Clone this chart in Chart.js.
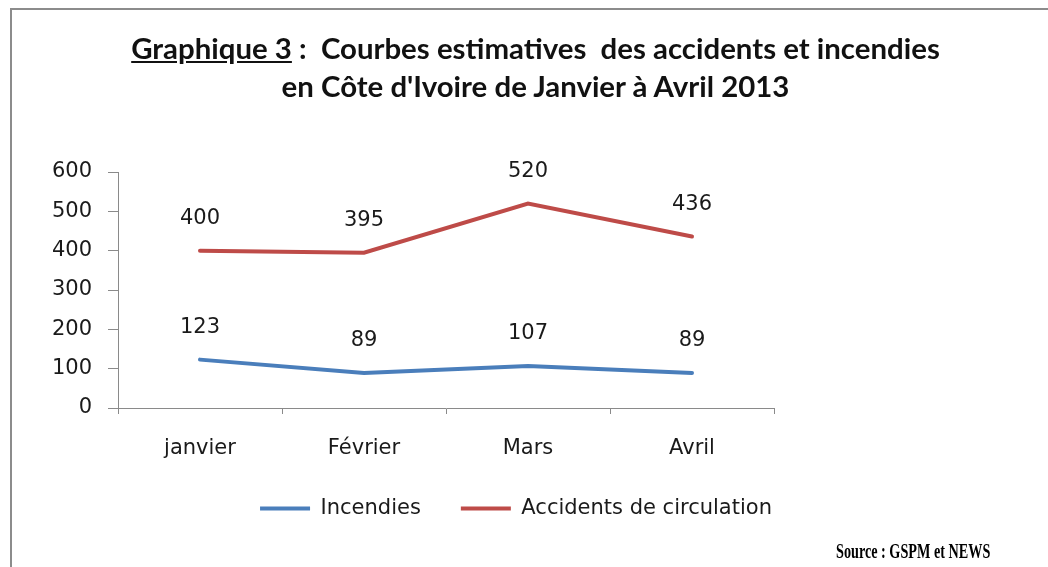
<!DOCTYPE html>
<html>
<head>
<meta charset="utf-8">
<script src="https://cdn.jsdelivr.net/npm/chart.js@4/dist/chart.umd.min.js"></script>
<style>
  html, body { margin: 0; padding: 0; background: #fff; }
  #page { position: relative; width: 1048px; height: 567px; overflow: hidden; }
  #frame { position: absolute; left: 10px; top: 8px; width: 1100px; height: 600px;
           border-left: 2px solid #8c8c8c; border-top: 2px solid #8c8c8c; }
  #chartBox { position: absolute; left: 0; top: 0; width: 1048px; height: 567px; }
  #title { position: absolute; left: 0; top: 29px; width: 1071px; text-align: center;
           font-family: Lato, "Open Sans", sans-serif; font-weight: bold; font-size: 29.4px;
           line-height: 38px; color: #111; white-space: pre; }
  #source { position: absolute; left: 836px; top: 540px; font-family: "Liberation Serif", serif;
            font-weight: bold; font-size: 20px; color: #000; white-space: nowrap;
            transform: scaleX(0.71); transform-origin: left top; }
</style>
</head>
<body>
<div id="page">
  <div id="frame"></div>
  <div id="chartBox"><canvas id="accidentsChart"></canvas></div>
  <div id="title"><u>Graphique 3</u> :  Courbes estimatives  des accidents et incendies
en Côte d'Ivoire de Janvier à Avril 2013</div>
  <div id="source">Source : GSPM et NEWS</div>
</div>
<script>
// données du graphique
const months = ["janvier", "Février", "Mars", "Avril"];
const incendies = [123, 89, 107, 89];
const accidents = [400, 395, 520, 436];
const yTicks = [0, 100, 200, 300, 400, 500, 600];

const blue = "#4A7EBB";
const red = "#BE4B48";
const axisGray = "#8a8a8a";
const numFont = { family: "DejaVu Sans", size: 21 };

// étiquettes de valeur au-dessus des points
const valueLabels = {
    id: "valueLabels",
    afterDatasetsDraw(chart) {
        const ctx = chart.ctx;
        ctx.save();
        ctx.font = "21px 'DejaVu Sans'";
        ctx.fillStyle = "#1a1a1a";
        ctx.textAlign = "center";
        ctx.textBaseline = "middle";
        chart.data.datasets.forEach((ds, i) => {
            const meta = chart.getDatasetMeta(i);
            meta.data.forEach((pt, j) => {
                ctx.fillText(String(ds.data[j]), pt.x, pt.y - 32);
            });
        });
        ctx.restore();
    }
};

// la légende est centrée sous tout le cadre, pas seulement sous la zone du graphique
const shiftLegend = {
    id: "shiftLegend",
    afterLayout(chart) {
        const lg = chart.legend;
        if (lg) {
            lg.left += 124;
            lg.right += 124;
            lg.top -= 6;
            lg.bottom -= 6;
        }
    }
};

const ctx = document.getElementById("accidentsChart").getContext("2d");
new Chart(ctx, {
    type: "line",
    data: {
        labels: months,
        datasets: [
            {
                label: "Incendies",
                data: incendies,
                borderColor: blue,
                backgroundColor: blue,
                borderWidth: 4,
                borderCapStyle: "round",
                pointRadius: 0,
                tension: 0
            },
            {
                label: "Accidents de circulation",
                data: accidents,
                borderColor: red,
                backgroundColor: red,
                borderWidth: 4,
                borderCapStyle: "round",
                pointRadius: 0,
                tension: 0
            }
        ]
    },
    options: {
        responsive: true,
        maintainAspectRatio: false,
        animation: false,
        layout: { padding: { left: 10, top: 172, right: 274, bottom: 32 } },
        plugins: {
            title: { display: false },
            tooltip: { enabled: false },
            legend: {
                position: "bottom",
                labels: {
                    usePointStyle: true,
                    pointStyle: "line",
                    pointStyleWidth: 50,
                    padding: 40,
                    color: "#1a1a1a",
                    font: { family: "DejaVu Sans", size: 21 }
                }
            }
        },
        scales: {
            x: {
                offset: true,
                grid: { offset: true, drawOnChartArea: false, drawTicks: true, tickLength: 6, color: axisGray },
                border: { display: true, color: axisGray, width: 1 },
                ticks: { color: "#1a1a1a", font: numFont, padding: 22, maxRotation: 0 },
                afterFit: s => { s.height = 56; }
            },
            y: {
                min: 0,
                max: 600,
                afterBuildTicks: s => { s.ticks = yTicks.map(v => ({ value: v })); },
                grid: { drawOnChartArea: false, drawTicks: true, tickLength: 10, color: axisGray },
                border: { display: true, color: axisGray, width: 1 },
                ticks: { color: "#1a1a1a", font: numFont, padding: 16 },
                afterFit: s => { s.width = 108; }
            }
        }
    },
    plugins: [valueLabels, shiftLegend]
});
</script>
</body>
</html>
